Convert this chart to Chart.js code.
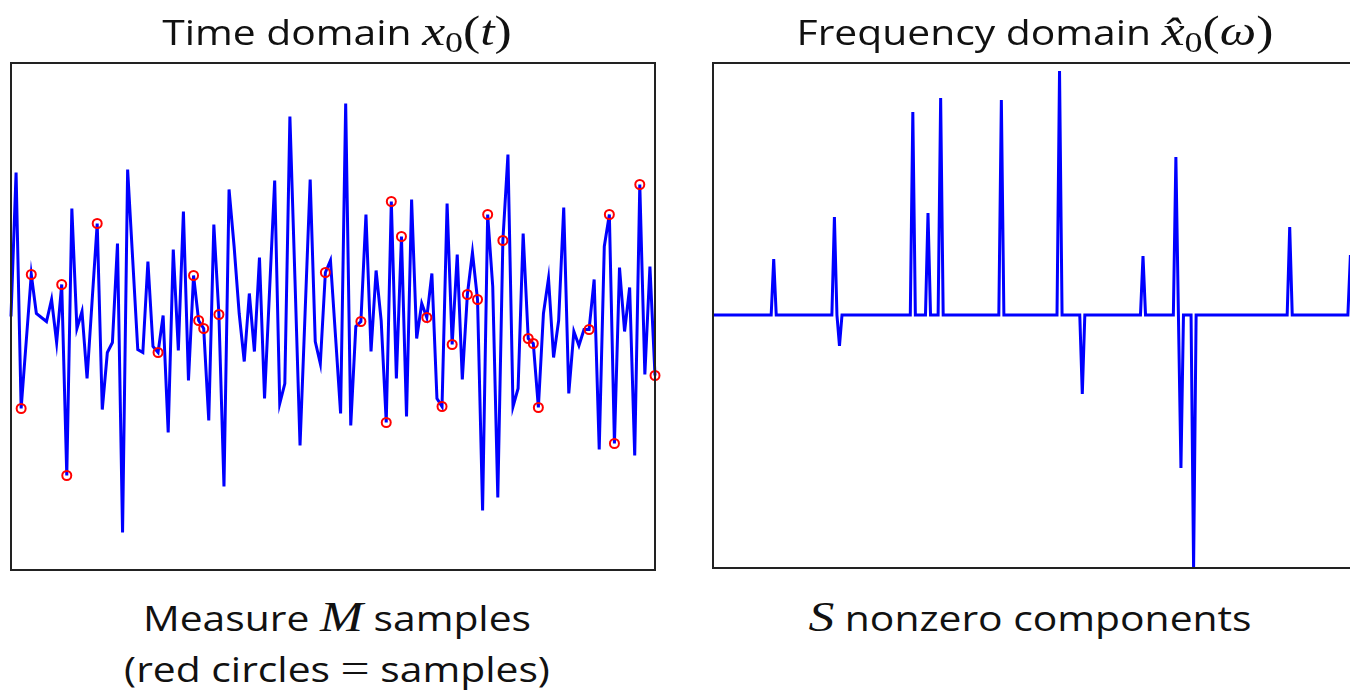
<!DOCTYPE html>
<html>
<head>
<meta charset="utf-8">
<script src="https://cdn.jsdelivr.net/npm/chart.js@4.4.1/dist/chart.umd.min.js"></script>
<style>
  html, body { margin:0; padding:0; background:#fff; width:1350px; height:693px; overflow:hidden; position:relative; }
  canvas { position:absolute; }
  .txt { position:absolute; white-space:nowrap; font-family:"Open Sans", sans-serif; font-size:34px; color:#111; line-height:1; transform:translateX(-50%) scaleX(1.2); transform-origin:center; }
  .m { font-family:"Liberation Serif", "DejaVu Serif", serif; font-style:italic; font-size:43px; }
  .r { font-family:"Liberation Serif", "DejaVu Serif", serif; font-style:normal; font-size:43px; }
  .sub { font-family:"Liberation Serif", serif; font-size:30px; position:relative; top:7px; }
</style>
</head>
<body>
<canvas id="timeChart" width="666" height="527" style="left:0px; top:53px;"></canvas>
<canvas id="freqChart" width="667" height="525" style="left:702px; top:53px;"></canvas>

<div class="txt" id="t1" style="left:337px; top:9px;">Time domain <span class="m">x</span><span class="sub">0</span><span class="r">(</span><span class="m">t</span><span class="r">)</span></div>
<div class="txt" id="t2" style="left:1035px; top:9px;">Frequency domain <span class="m">x̂</span><span class="sub">0</span><span class="r">(</span><span class="m">ω</span><span class="r">)</span></div>
<div class="txt" id="c1" style="left:337px; top:595px;">Measure <span class="m">M</span> samples</div>
<div class="txt" id="c2" style="left:337px; top:646px;">(red circles <span class="r">=</span> samples)</div>
<div class="txt" id="c3" style="left:1030px; top:595px;"><span class="m">S</span> nonzero components</div>

<script>
// ---- Time domain signal x0(t), 128 samples ----
const timeIndex = Array.from({length:128}, (_, i) => i);
const timeValues = [
  0.00, 1.44, -0.92, -0.25, 0.42, 0.03, -0.01, -0.05, 0.17, -0.26,
  0.32, -1.59, 1.08, -0.12, 0.05, -0.62, 0.16, 0.93, -0.93, -0.36,
  -0.26, 0.73, -2.16, 1.47, 0.57, -0.33, -0.36, 0.55, -0.30, -0.36,
  0.01, -1.16, 0.67, -0.34, 1.05, -0.64, 0.41, -0.04, -0.12, -1.04,
  0.92, 0.02, -1.70, 1.27, 0.70, 0.03, -0.45, 0.23, -0.35, 0.59,
  -0.82, 0.27, 1.36, -0.87, -0.67, 2.00, 0.37, -1.29, 0.04, 1.37,
  -0.25, -0.47, 0.44, 0.56, -0.20, -0.97, 2.13, -1.09, -0.10, -0.05,
  1.02, -0.35, 0.46, -0.04, -1.06, 1.15, -0.62, 0.80, -1.00, 1.17,
  -0.22, 0.13, -0.01, 0.43, -0.82, -0.90, 1.13, -0.28, 0.62, -0.63,
  0.22, 0.64, 0.17, -1.94, 1.02, 0.30, -1.81, 0.76, 1.62, -0.90,
  -0.72, 0.83, -0.22, -0.27, -0.91, 0.03, 0.38, -0.41, -0.04, 1.09,
  -0.77, -0.15, -0.29, -0.13, -0.13, 0.37, -1.33, 0.70, 1.02, -1.27,
  0.49, -0.15, 0.29, -1.39, 1.32, -0.58, 0.50, -0.59
];
// indices of the measured samples (red circles)
const sampleIndex = [2, 4, 10, 11, 17, 29, 36, 37, 38, 41, 62, 69, 74, 75, 77, 82, 85, 87, 90, 92, 94, 97, 102, 103, 104, 114, 118, 119, 124, 127];

// ---- Frequency domain, 256 bins, S nonzero components ----
const freqCount = 256;
const spikeIndex = [24, 48, 50, 79, 85, 90, 114, 137, 146, 170, 183, 185, 190, 228, 252];
const spikeValues = [0.56, 0.98, -0.31, 2.03, 1.02, 2.17, 2.15, 2.44, -0.79, 0.59, 1.58, -1.53, -2.53, 0.88, 0.60];

const timeRange = [-2.535, 2.535];
const freqRange = [-2.53, 2.52];

// build tables for the library
const freqIndex = Array.from({length:freqCount}, (_, i) => i);
const freqValues = freqIndex.map(() => 0);
spikeIndex.forEach((k, j) => { freqValues[k] = spikeValues[j]; });
const samplePoints = sampleIndex.map(k => ({x:k, y:timeValues[k]}));
const timePoints = timeIndex.map((k, i) => ({x:k, y:timeValues[i]}));
const freqPoints = freqIndex.map((k, i) => ({x:k, y:freqValues[i]}));

const framePlugin = {
  id: 'frame',
  afterDatasetsDraw(chart) {
    const a = chart.chartArea, c = chart.ctx;
    c.save();
    c.strokeStyle = '#222';
    c.lineWidth = 2;
    c.strokeRect(a.left, a.top, a.right - a.left, a.bottom - a.top);
    c.restore();
  }
};

function baseOptions(xmax, yr, pad) {
  return {
    responsive: false,
    animation: false,
    events: [],
    layout: { padding: pad },
    plugins: { legend: {display:false}, tooltip: {enabled:false}, title:{display:false} },
    scales: {
      x: { type:'linear', min:0, max:xmax, display:false },
      y: { type:'linear', min:yr[0], max:yr[1], display:false }
    }
  };
}

new Chart(document.getElementById('timeChart'), {
  type: 'line',
  data: {
    datasets: [
      { data: samplePoints, showLine:false, pointRadius:4.5, pointBorderColor:'#ff0000', pointBackgroundColor:'rgba(0,0,0,0)', pointBorderWidth:2, clip:false, order:0 },
      { data: timePoints, borderColor:'#0000ff', borderWidth:3, pointRadius:0, tension:0, clip:false, order:1 }
    ]
  },
  options: baseOptions(127, timeRange, {left:11, right:11, top:10, bottom:10}),
  plugins: [framePlugin]
});

new Chart(document.getElementById('freqChart'), {
  type: 'line',
  data: {
    datasets: [
      { data: freqPoints, borderColor:'#0000ff', borderWidth:3, pointRadius:0, tension:0, clip:false }
    ]
  },
  options: baseOptions(freqCount - 1, freqRange, {left:11, right:11, top:10, bottom:10}),
  plugins: [framePlugin]
});
</script>
</body>
</html>
